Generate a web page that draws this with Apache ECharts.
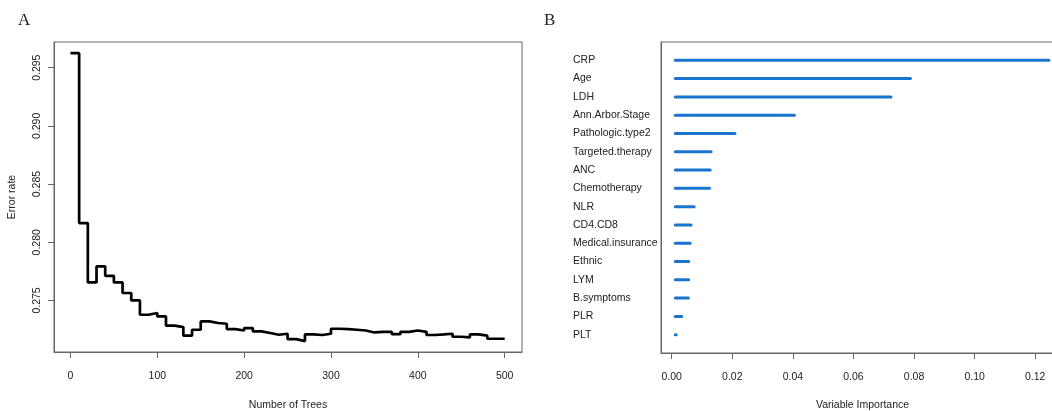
<!DOCTYPE html>
<html>
<head>
<meta charset="utf-8">
<title>Random forest: error rate and variable importance</title>
<script src="https://cdn.jsdelivr.net/npm/echarts@6/dist/echarts.min.js"></script>
<style>
  html, body { margin: 0; padding: 0; background: #fff; }
  #charts { width: 1052px; height: 411px; }
</style>
</head>
<body>
<div id="charts"></div>
<script>
// panel A: OOB error rate, held for every 10 trees
var trees = [0, 10, 20, 30, 40, 50, 60, 70, 80, 90,
             100, 110, 120, 130, 140, 150, 160, 170, 180, 190,
             200, 210, 220, 230, 240, 250, 260, 270, 280, 290,
             300, 310, 320, 330, 340, 350, 360, 370, 380, 390,
             400, 410, 420, 430, 440, 450, 460, 470, 480, 490, 500];
var errorRate = [0.29625, 0.28165, 0.27655, 0.27792, 0.27712, 0.27655, 0.27564, 0.27500, 0.27377, 0.27392,
                 0.27363, 0.27283, 0.27271, 0.27197, 0.27248, 0.27320, 0.27306, 0.27300, 0.27254, 0.27242,
                 0.27263, 0.27234, 0.27220, 0.27205, 0.27214, 0.27168, 0.27151, 0.27208, 0.27203, 0.27214,
                 0.27257, 0.27254, 0.27248, 0.27242, 0.27225, 0.27230, 0.27230, 0.27211, 0.27230, 0.27242,
                 0.27230, 0.27203, 0.27208, 0.27214, 0.27188, 0.27183, 0.27208, 0.27197, 0.27171, 0.27171, 0.27171];
var treeTicks = [0, 100, 200, 300, 400, 500];
var errorTicks = [0.275, 0.280, 0.285, 0.290, 0.295];

// panel B: variable importance, top to bottom
var variables = ['CRP', 'Age', 'LDH', 'Ann.Arbor.Stage', 'Pathologic.type2', 'Targeted.therapy',
                 'ANC', 'Chemotherapy', 'NLR', 'CD4.CD8', 'Medical.insurance', 'Ethnic',
                 'LYM', 'B.symptoms', 'PLR', 'PLT'];
var importance = [0.1245, 0.0788, 0.0724, 0.0405, 0.0209, 0.0130,
                  0.0127, 0.0125, 0.0074, 0.0064, 0.0061, 0.0056,
                  0.0056, 0.0055, 0.0033, 0.0015];
var importanceTicks = [0, 0.02, 0.04, 0.06, 0.08, 0.10, 0.12];
var lineStart = 0.0012; // segments all start here

var font = 'Liberation Sans, Arial, sans-serif';
var txt = '#222';
var boxColor = '#666';

function initECharts(myChart) {
    var n = variables.length;
    var errData = trees.map(function (t, i) { return [t, errorRate[i]]; });
    var impData = importance.map(function (v, i) { return [v, n - i]; });
    var panelTitle = { fontFamily: 'Liberation Serif, DejaVu Serif, serif', fontWeight: 'normal', fontSize: 17, color: txt };
    var boxLine = { show: true, onZero: false, lineStyle: { color: boxColor, width: 1 } };
    var tick = { show: true, length: 6, lineStyle: { color: boxColor, width: 1 } };

    var option = {
        animation: false,
        backgroundColor: '#fff',
        textStyle: { fontFamily: font },
        title: [
            { text: 'A', left: 18, top: 12, padding: 0, textStyle: panelTitle },
            { text: 'B', left: 544, top: 12, padding: 0, textStyle: panelTitle }
        ],
        grid: [
            { left: 54, top: 42, width: 468, height: 310, outerBoundsMode: 'none', containLabel: false,
              show: true, borderColor: boxColor, borderWidth: 1 },
            { left: 661, top: 42, right: -12, height: 311, outerBoundsMode: 'none', containLabel: false,
              show: true, borderColor: boxColor, borderWidth: 1 }
        ],
        xAxis: [
            {
                gridIndex: 0, type: 'value', min: -18.96, max: 519.96,
                name: 'Number of Trees', nameLocation: 'middle', nameGap: 48,
                nameTextStyle: { fontSize: 10.5, color: txt },
                axisLine: boxLine,
                axisTick: Object.assign({ customValues: treeTicks }, tick),
                axisLabel: { customValues: treeTicks, margin: 19, fontSize: 10.5, color: txt },
                splitLine: { show: false }
            },
            {
                gridIndex: 1, type: 'value', min: -0.00353, max: 0.1295,
                name: 'Variable Importance', nameLocation: 'middle', nameGap: 47,
                nameTextStyle: { fontSize: 10.5, color: txt },
                axisLine: boxLine,
                axisTick: Object.assign({ customValues: importanceTicks }, tick),
                axisLabel: {
                    customValues: importanceTicks, margin: 19, fontSize: 10.5, color: txt,
                    formatter: function (v) { return v.toFixed(2); }
                },
                splitLine: { show: false }
            }
        ],
        yAxis: [
            {
                gridIndex: 0, type: 'value', min: 0.27057, max: 0.29721,
                name: 'Error rate', nameLocation: 'middle', nameGap: 36,
                nameTextStyle: { fontSize: 10.5, color: txt },
                axisLine: boxLine,
                axisTick: Object.assign({ customValues: errorTicks }, tick),
                axisLabel: {
                    customValues: errorTicks, rotate: 90, margin: 11, fontSize: 10.5, color: txt,
                    formatter: function (v) { return v.toFixed(3); }
                },
                splitLine: { show: false }
            },
            {
                gridIndex: 1, type: 'value', min: 0, max: n + 1,
                axisLine: boxLine,
                axisTick: { show: false },
                axisLabel: {
                    customValues: impData.map(function (d) { return d[1]; }),
                    align: 'left', margin: 88, fontSize: 10.5, color: txt,
                    formatter: function (v) { return variables[n - v] || ''; }
                },
                splitLine: { show: false }
            }
        ],
        series: [
            {
                type: 'line', xAxisIndex: 0, yAxisIndex: 0,
                step: 'end', symbol: 'none',
                lineStyle: { color: '#000', width: 2.7 },
                data: errData
            },
            {
                type: 'custom', xAxisIndex: 1, yAxisIndex: 1,
                renderItem: function (params, api) {
                    var a = api.coord([lineStart, api.value(1)]);
                    var b = api.coord([api.value(0), api.value(1)]);
                    return {
                        type: 'line',
                        shape: { x1: a[0], y1: a[1], x2: b[0], y2: b[1] },
                        style: { stroke: '#1874CD', lineWidth: 3, lineCap: 'round' }
                    };
                },
                data: impData
            }
        ]
    };

    myChart.setOption(option);
}

window.onload = function () {
    var myChart = echarts.init(document.getElementById('charts'));
    initECharts(myChart);
};
</script>
</body>
</html>
